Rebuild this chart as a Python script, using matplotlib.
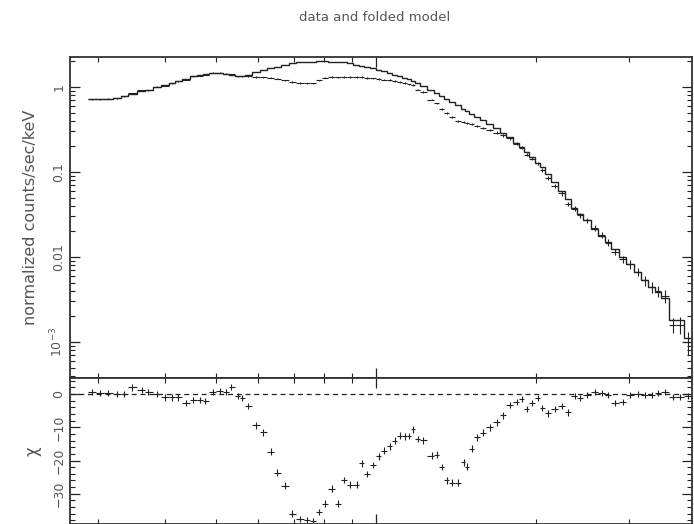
import numpy as np
import matplotlib
matplotlib.use("Agg")
import matplotlib.pyplot as plt
from matplotlib.ticker import LogLocator, MultipleLocator, NullFormatter, FixedLocator, FixedFormatter

# %% Data
energy = [2.919, 3.022, 3.128, 3.252, 3.353, 3.471, 3.625, 3.721, 3.869, 4.005,
          4.129, 4.238, 4.387, 4.523, 4.662, 4.764, 4.932, 5.084, 5.218, 5.333,
          5.497, 5.593, 5.741, 5.943, 6.129, 6.345, 6.512, 6.742, 6.950, 7.195,
          7.417, 7.612, 7.812, 8.017, 8.264, 8.480, 8.703, 8.933, 9.209, 9.410,
          9.618, 9.871, 10.13, 10.35, 10.63, 10.86, 11.10, 11.34, 11.54, 11.74,
          12.00, 12.26, 12.75, 13.03, 13.31, 13.61, 13.91, 14.27, 14.65, 14.84,
          15.17, 15.50, 15.91, 16.39, 16.90, 17.35, 17.88, 18.44, 18.84, 19.26,
          19.67, 20.19, 20.54, 21.09, 21.74, 22.41, 22.99, 23.70, 24.22, 24.97,
          25.85, 26.65, 27.35, 28.19, 29.19, 30.09, 31.15, 32.11, 33.10, 33.97,
          35.02, 36.26, 37.37, 38.69]

model = [0.72, 0.72, 0.73, 0.74, 0.78, 0.83, 0.90, 0.92, 1.00, 1.05,
         1.11, 1.18, 1.24, 1.35, 1.38, 1.42, 1.46, 1.46, 1.42, 1.38,
         1.35, 1.35, 1.38, 1.50, 1.58, 1.67, 1.74, 1.81, 1.89, 1.94,
         1.97, 1.99, 2.02, 2.02, 1.99, 1.97, 1.94, 1.89, 1.81, 1.77,
         1.72, 1.67, 1.58, 1.54, 1.46, 1.40, 1.33, 1.28, 1.23, 1.18,
         1.11, 1.04, 0.92, 0.85, 0.78, 0.72, 0.67, 0.61, 0.55, 0.52,
         0.48, 0.44, 0.41, 0.37, 0.33, 0.29, 0.26, 0.22, 0.197, 0.172,
         0.150, 0.128, 0.115, 0.095, 0.076, 0.060, 0.048, 0.0375, 0.032, 0.027,
         0.0214, 0.0177, 0.0150, 0.0124, 0.0100, 0.0083, 0.0067, 0.0054, 0.0044, 0.0039,
         0.0033, 0.0018, 0.0018, 0.0011]

data = [0.72, 0.72, 0.73, 0.74, 0.78, 0.84, 0.91, 0.92, 1.00, 1.04,
        1.10, 1.17, 1.21, 1.33, 1.36, 1.40, 1.47, 1.47, 1.43, 1.41,
        1.34, 1.33, 1.33, 1.31, 1.30, 1.28, 1.25, 1.20, 1.14, 1.11,
        1.10, 1.10, 1.20, 1.28, 1.31, 1.30, 1.31, 1.31, 1.31, 1.31,
        1.28, 1.26, 1.24, 1.22, 1.20, 1.18, 1.15, 1.11, 1.07, 1.05,
        0.93, 0.87, 0.71, 0.64, 0.55, 0.49, 0.44, 0.40, 0.39, 0.38,
        0.37, 0.35, 0.33, 0.31, 0.29, 0.27, 0.25, 0.215, 0.193, 0.160,
        0.143, 0.126, 0.106, 0.085, 0.069, 0.056, 0.042, 0.037, 0.031, 0.027,
        0.0220, 0.0180, 0.0148, 0.0115, 0.0094, 0.0082, 0.0067, 0.0053, 0.0044, 0.0040,
        0.0035, 0.0016, 0.0016, 0.0010]

frac_err = [0.012, 0.012, 0.012, 0.013, 0.013, 0.013, 0.013, 0.014, 0.014, 0.014,
            0.014, 0.014, 0.014, 0.014, 0.014, 0.014, 0.014, 0.015, 0.015, 0.015,
            0.015, 0.015, 0.015, 0.015, 0.016, 0.016, 0.016, 0.016, 0.017, 0.017,
            0.017, 0.017, 0.017, 0.017, 0.018, 0.018, 0.018, 0.018, 0.019, 0.019,
            0.019, 0.019, 0.020, 0.020, 0.020, 0.021, 0.021, 0.021, 0.022, 0.022,
            0.023, 0.023, 0.024, 0.025, 0.025, 0.026, 0.027, 0.028, 0.029, 0.030,
            0.031, 0.032, 0.033, 0.034, 0.035, 0.036, 0.038, 0.040, 0.042, 0.044,
            0.046, 0.048, 0.050, 0.053, 0.056, 0.059, 0.062, 0.066, 0.070, 0.074,
            0.078, 0.083, 0.088, 0.094, 0.10, 0.11, 0.12, 0.13, 0.14, 0.15,
            0.17, 0.20, 0.22, 0.30]

chi = [0.6, 0.3, 0.3, 0.0, 0.0, 2.0, 1.2, 0.6, 0.0, -1.0,
       -1.0, -1.0, -2.7, -1.8, -1.8, -2.1, 0.6, 0.9, 0.6, 2.1,
       -0.6, -1.2, -3.6, -9.4, -11.5, -17.3, -23.6, -27.6, -36.0, -37.6,
       -37.9, -38.2, -35.5, -33.0, -28.5, -33.0, -25.8, -27.3, -27.3, -20.8,
       -24.1, -21.3, -18.7, -17.0, -15.7, -14.0, -12.5, -12.7, -12.6, -10.6,
       -13.5, -13.9, -18.5, -18.2, -21.9, -26.0, -26.7, -26.7, -20.5, -21.8,
       -16.4, -13.0, -11.6, -10.0, -8.5, -6.4, -3.3, -2.4, -1.5, -4.5,
       -2.7, -1.2, -4.2, -5.8, -4.5, -3.6, -5.5, -0.6, -1.2, -0.3,
       0.6, 0.3, -0.3, -2.7, -2.4, -0.3, 0.0, -0.3, -0.3, 0.3,
       0.6, -0.9, -0.9, -0.6]

# %% Bin edges (geometric midpoints between channel centres)
e = np.asarray(energy)
loge = np.log10(e)
mid = 0.5 * (loge[1:] + loge[:-1])
edges = 10 ** np.concatenate([[2 * loge[0] - mid[0]], mid, [2 * loge[-1] - mid[-1]]])
xerr = np.vstack([e - edges[:-1], edges[1:] - e])

d = np.asarray(data)
derr = d * np.asarray(frac_err)

INK = "#222222"
TXT = "#555555"

# %% Figure
fig = plt.figure(figsize=(6.94, 5.24), dpi=100)
ax1 = fig.add_axes([0.101, 0.2786, 0.896, 0.6126])
ax2 = fig.add_axes([0.101, 0.0, 0.896, 0.2786], sharex=ax1)

ax1.stairs(model, edges, color=INK, lw=1.0, baseline=None)
ax1.errorbar(e, d, xerr=xerr, yerr=derr, fmt="none", ecolor=INK, elinewidth=0.8)
ax1.set_xscale("log")
ax1.set_yscale("log")
ax1.set_xlim(2.653, 39.4)
ax1.set_ylim(3.77e-4, 2.25)

ax2.errorbar(e, chi, xerr=xerr, yerr=1.0, fmt="none", ecolor=INK, elinewidth=0.8)
ax2.axhline(0, color=INK, lw=0.9, ls=(0, (4, 3)))
ax2.set_ylim(-39.1, 4.85)

# ticks
ax1.yaxis.set_major_locator(FixedLocator([1e-3, 1e-2, 1e-1, 1]))
ax1.yaxis.set_major_formatter(FixedFormatter(["$10^{-3}$", "0.01", "0.1", "1"]))
ax1.yaxis.set_minor_locator(LogLocator(base=10, subs=np.arange(2, 10)))
ax1.yaxis.set_minor_formatter(NullFormatter())
ax1.xaxis.set_minor_locator(LogLocator(base=10, subs=np.arange(2, 10)))

ax2.yaxis.set_major_locator(FixedLocator([-30, -20, -10, 0]))
ax2.yaxis.set_major_formatter(FixedFormatter(["\u221230", "\u221220", "\u221210", "0"]))
ax2.yaxis.set_minor_locator(MultipleLocator(2))

for ax in (ax1, ax2):
    ax.tick_params(which="both", direction="in", top=True, right=True,
                   colors=INK, labelcolor=TXT, labelsize=9)
    ax.tick_params(which="major", length=7, width=0.9)
    ax.tick_params(which="minor", length=3.5, width=0.8)
    ax.tick_params(axis="x", which="both", labelbottom=False)
    ax.tick_params(axis="y", labelrotation=90)
    plt.setp(ax.get_yticklabels(), va="center")
    for sp in ax.spines.values():
        sp.set_linewidth(1.3)
        sp.set_color("#333333")

ax1.set_ylabel("normalized counts/sec/keV", fontsize=11.5, color=TXT, labelpad=8)
ax2.set_ylabel("\u03c7", fontsize=12, color=TXT, labelpad=8)
fig.text(0.54, 0.966, "data and folded model", ha="center", va="center",
         fontsize=9.5, color=TXT)

fig.savefig("out.png", dpi=100)
plt.close(fig)
